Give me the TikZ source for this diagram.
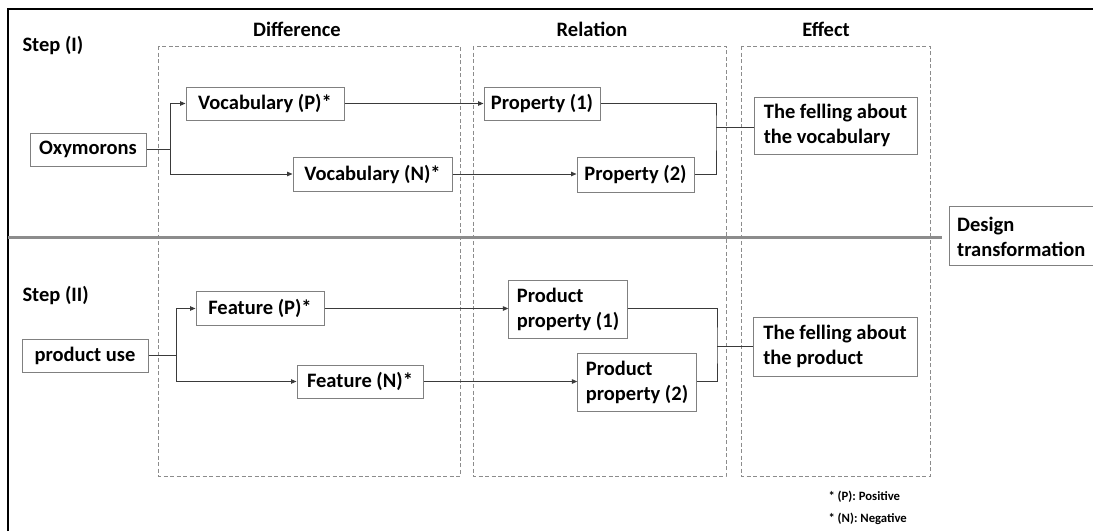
\documentclass[tikz,border=0pt]{standalone}
\usepackage{fontspec}
\setmainfont{Carlito}
\usetikzlibrary{arrows.meta}
\definecolor{boxline}{HTML}{808080}
\definecolor{wire}{HTML}{3A3A3A}
\definecolor{zone}{HTML}{8C8C8C}
\tikzset{
  every node/.style={font=\bfseries\fontsize{20.5}{25}\selectfont, text=black},
  box/.style={draw=boxline, line width=1pt, fill=white, inner sep=0pt, align=center},
  tallbox/.style={draw=boxline, line width=1pt, fill=white, inner xsep=8pt, inner ysep=0pt, align=left},
  zonebox/.style={draw=zone, line width=0.8pt, dash pattern=on 4pt off 2.5pt},
  wire/.style={draw=wire, line width=0.9pt},
  arr/.style={wire, -{Triangle[length=5.5pt,width=4.5pt]}},
  head/.style={anchor=center},
  steplabel/.style={anchor=west},
  note/.style={anchor=west, font=\bfseries\fontsize{12.7}{15}\selectfont}
}
\begin{document}
\begin{tikzpicture}[x=1pt,y=-1pt]
\useasboundingbox (0,0) rectangle (1093,531);

% outer frame (left and top edges)
\draw[black, line width=2pt] (7.5,531) -- (7.5,9) -- (1093,9);

% column zones
\draw[zonebox] (158,46) rectangle (460,476);
\draw[zonebox] (473,46) rectangle (726,476);
\draw[zonebox] (741,46) rectangle (930,476);

% headings
\node[head] (hdiff) at (297,29) {Difference};
\node[head] (hrel)  at (592,29) {Relation};
\node[head] (heff)  at (826,29) {Effect};
\node[steplabel] (s1) at (19,45) {Step (I)};
\node[steplabel] (s2) at (19,295) {Step (II)};

% separator between the two steps
\draw[zone, line width=3pt] (8,237) -- (942,237);

% design transformation label box
\draw[boxline, line width=1pt] (1100,206) -- (949,206) -- (949,265) -- (1100,265);
\node[anchor=west, align=left, inner sep=0pt] (dt) at (957,237) {Design\\transformation};

% step I boxes
\node[box, minimum width=116pt, minimum height=33pt] (oxy) at (88,149.5) {Oxymorons};
\node[box, minimum width=158pt, minimum height=33pt] (vp) at (265,103.5) {Vocabulary (P)*};
\node[box, minimum width=159pt, minimum height=34pt] (vn) at (372.5,174) {Vocabulary (N)*};
\node[box, minimum width=116pt, minimum height=33pt] (p1) at (542,103.5) {Property (1)};
\node[box, minimum width=117pt, minimum height=35pt] (p2) at (635.5,174.5) {Property (2)};
\node[tallbox, minimum width=163pt, minimum height=57pt] (e1) at (835.5,125.5) {The felling about\\the vocabulary};

% step II boxes
\node[box, minimum width=126pt, minimum height=33pt] (pu) at (85,355.5) {product use};
\node[box, minimum width=128pt, minimum height=34pt] (fp) at (260,308.5) {Feature (P)*};
\node[box, minimum width=126pt, minimum height=33pt] (fn) at (360,381.5) {Feature (N)*};
\node[tallbox, minimum width=116pt, minimum height=58pt] (pp1) at (568,309) {Product\\property (1)};
\node[tallbox, minimum width=118pt, minimum height=58pt] (pp2) at (637,382) {Product\\property (2)};
\node[tallbox, minimum width=164pt, minimum height=59pt] (e2) at (835,346.5) {The felling about\\the product};

% step I connectors
\coordinate (b1) at (170,149.5);
\coordinate (j1) at (716,127);
\draw[wire] (oxy.east) -- (b1);
\draw[arr] (b1) |- (vp.west);
\draw[arr] (b1) |- (vn.west);
\draw[arr] (vp.east) -- (p1.west);
\draw[arr] (vn.east) -- (vn.east -| p2.west);
\draw[wire] (p1.east) -| (j1) |- (p2.east);
\draw[wire] (j1) -- (j1 -| e1.west);

% step II connectors
\coordinate (b2) at (176,355.5);
\coordinate (j2) at (717,346);
\draw[wire] (pu.east) -- (b2);
\draw[arr] (b2) |- (fp.west);
\draw[arr] (b2) |- (fn.west);
\draw[arr] (fp.east) -- (fp.east -| pp1.west);
\draw[arr] (fn.east) -- (fn.east -| pp2.west);
\draw[wire] (fp.east -| pp1.east) -| (j2) |- (fn.east -| pp2.east);
\draw[wire] (j2) -- (j2 -| e2.west);

% legend
\node[note] (n1) at (825,497) {* (P): Positive};
\node[note] (n2) at (825,519) {* (N): Negative};
\end{tikzpicture}
\end{document}
